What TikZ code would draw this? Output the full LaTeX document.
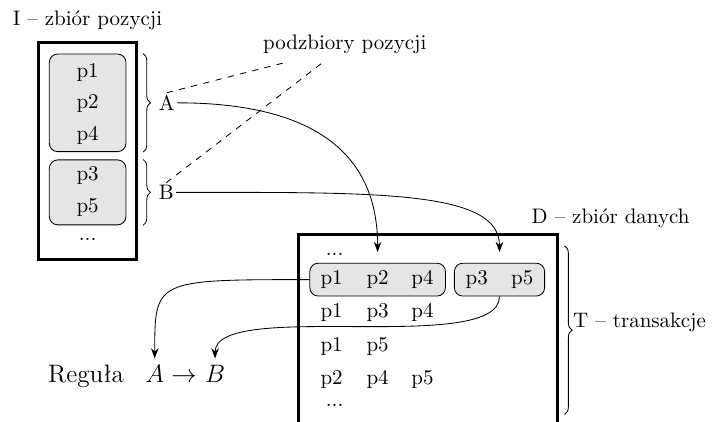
\documentclass[tikz,border=0pt]{standalone}
\usepackage{amssymb}
\usepackage{tikz}
\usetikzlibrary{positioning,calc,arrows.meta,decorations.pathreplacing}

\begin{document}
\begin{tikzpicture}[
    frame/.style={draw, line width=1.4pt, inner sep=0pt},
    grp/.style={draw, fill=gray!20, rounded corners=4pt, inner sep=0pt},
    rule/.style={font=\large, anchor=base},
    arrow/.style={->, >=Stealth},
    subset/.style={decorate, decoration={brace, amplitude=3.5pt}}]

  \useasboundingbox (0,0) rectangle (11.95,-7.05);

  %%% I column on the left
  \node[frame, minimum width=1.645cm, minimum height=3.64cm] (Ibox) at (1.465,-2.53) {};
  \node[above=0.07cm of Ibox] (Ilab) {I -- zbiór pozycji};

  % the two subsets A and B
  \node[grp, minimum width=1.283cm, minimum height=1.634cm] (gIA) at (1.467,-1.721) {};
  \node[grp, minimum width=1.283cm, minimum height=1.087cm] (gIB) at (1.467,-3.22) {};
  \node (ip1) at (1.467,-1.21) {p1};
  \node (ip2) at (1.467,-1.74) {p2};
  \node (ip4) at (1.467,-2.27) {p4};
  \node (ip3) at (1.467,-2.94) {p3};
  \node (ip5) at (1.467,-3.47) {p5};
  \node (idots) at (1.467,-4.01) {...};

  % braces with the names of the subsets
  \draw[subset] ([xshift=0.28cm]gIA.north east) -- ([xshift=0.28cm]gIA.south east);
  \draw[subset] ([xshift=0.28cm]gIB.north east) -- ([xshift=0.28cm]gIB.south east);
  \node[inner sep=1pt, right=0.5cm of gIA] (labA) {A};
  \node[inner sep=1pt, right=0.5cm of gIB] (labB) {B};

  \node (podz) at (5.77,-0.75) {podzbiory pozycji};
  \draw[dashed] (labA.north) -- ($(podz.south)+(-0.94,0)$);
  \draw[dashed] (labB.north) -- ($(podz.south)+(-0.35,0)$);

  %%% D box with the transactions
  \node[frame, minimum width=4.333cm, minimum height=3.8cm] (Dbox) at (7.16,-5.823) {};
  \node (Dlab) at (10.22,-3.66) {D -- zbiór danych};

  % subsets found in the first transaction
  \node[grp, minimum width=2.27cm, minimum height=0.55cm] (gDA) at (6.32,-4.68) {};
  \node[grp, minimum width=1.51cm, minimum height=0.55cm] (gDB) at (8.36,-4.68) {};

  \node (ddots1) at (5.6,-4.26) {...};
  % first transaction
  \node (d11) at (5.55,-4.68) {p1};
  \node (d12) at (6.32,-4.68) {p2};
  \node (d13) at (7.07,-4.68) {p4};
  \node (d14) at (7.98,-4.68) {p3};
  \node (d15) at (8.74,-4.68) {p5};
  % second transaction
  \node (d21) at (5.55,-5.23) {p1};
  \node (d22) at (6.32,-5.23) {p3};
  \node (d23) at (7.07,-5.23) {p4};
  % third transaction
  \node (d31) at (5.55,-5.80) {p1};
  \node (d32) at (6.32,-5.80) {p5};
  % fourth transaction
  \node (d41) at (5.55,-6.35) {p2};
  \node (d42) at (6.32,-6.35) {p4};
  \node (d43) at (7.07,-6.35) {p5};
  \node (ddots2) at (5.6,-6.79) {...};

  % brace over all transactions
  \draw[subset] ([xshift=0.1cm]Dbox.east |- ddots1.north) -- ([xshift=0.1cm]Dbox.east |- ddots2.south);
  \node[anchor=west] (Tlab) at (9.47,-5.40) {T -- transakcje};

  %%% the rule
  \node[rule] (reg) at (1.44,-6.41) {Reguła};
  \node[rule] (rA) at (2.59,-6.41) {$A$};
  \node[rule] (rarr) at (3.08,-6.41) {$\rightarrow$};
  \node[rule] (rB) at (3.60,-6.41) {$B$};

  %%% arrows
  \draw[arrow, shorten >=0.18cm] (labA.east) .. controls +(2.5,0) and +(0,1.67) .. (gDA.north);
  \draw[arrow, shorten >=0.18cm] (labB.east) .. controls +(3.35,0) and +(0,1.22) .. (gDB.north);
  \draw[arrow] (gDA.west) .. controls (gDA.west -| rA) .. (rA.north);
  \draw[arrow] (gDB.south) .. controls +(0,-1) and +(0,1) .. (rB.north);
\end{tikzpicture}
\end{document}
